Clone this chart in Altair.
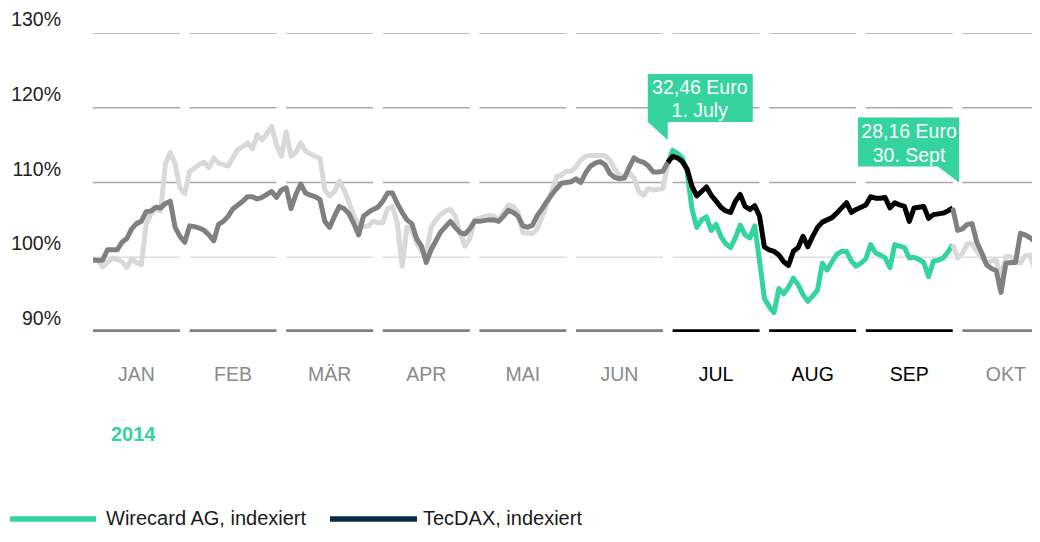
import altair as alt
import pandas as pd

# ---------------- data ----------------
MONTHS = ["JAN", "FEB", "MÄR", "APR", "MAI", "JUN", "JUL", "AUG", "SEP", "OKT"]
HIGHLIGHT_MONTHS = ["JUL", "AUG", "SEP"]
GRID_LEVELS = [100, 110, 120, 130]
BASE_LEVEL = 90
Y_LABELS = [90, 100, 110, 120, 130]

# trading-day index 0..196 (20 slots per month)
WIRECARD = [
    99.8, 99.6, 98.7, 99.3, 99.9, 99.7, 99.4, 98.6, 99.8, 99.3,
    99.0, 104.4, 105.8, 106.4, 106.2, 112.5, 114.0, 112.5, 109.3, 108.5,
    111.5, 111.9, 112.4, 112.7, 112.0, 113.3, 112.6, 112.4, 112.2, 113.4,
    114.4, 114.8, 115.3, 114.5, 116.4, 115.7, 116.5, 117.5, 115.0, 113.5,
    116.8, 113.5, 114.0, 115.3, 114.2, 113.8, 113.5, 113.2, 109.0, 108.2,
    108.8, 110.2, 109.0, 107.3, 105.5, 104.4, 104.1, 104.2, 104.8, 104.6,
    104.6, 106.5, 106.8, 104.6, 98.8, 104.0, 103.8, 101.9, 100.8, 100.5,
    104.0, 105.0, 105.7, 106.2, 106.4, 105.5, 103.3, 101.5, 102.5, 105.0,
    105.2, 105.4, 105.6, 105.5, 105.0, 106.0, 107.0, 106.8, 106.0, 103.3,
    103.2, 103.2, 103.8, 105.4, 107.2, 108.8, 110.8, 111.0, 111.5, 111.5,
    112.1, 113.0, 113.5, 113.6, 113.6, 113.6, 113.6, 113.0, 111.8, 111.0,
    110.6, 111.3, 110.6, 108.8, 108.3, 109.2, 109.0, 109.1, 109.2, 112.5,
    114.3, 113.9, 113.3, 111.5, 106.5, 104.0, 105.0, 105.4, 103.6, 104.4,
    102.8, 101.8, 101.3, 102.6, 104.3, 103.0, 102.6, 104.2, 99.5, 94.5,
    93.4, 92.6, 95.8, 95.1, 96.0, 97.2, 96.3, 95.0, 94.1, 94.8,
    95.6, 99.2, 98.3, 99.4, 100.4, 100.8, 100.8, 99.5, 98.8, 99.2,
    99.8, 101.7, 100.6, 100.3, 99.9, 98.6, 101.7, 101.5, 101.3, 99.9,
    100.0, 99.7, 99.3, 97.4, 99.5, 99.6, 99.9, 100.7, 101.7, 99.9,
    100.5, 101.8, 101.8, 100.8, 100.0, 99.2, 99.5, 99.6, 97.3, 100.1,
    100.1, 99.5, 99.2, 100.2, 100.3, 98.3, 97.9,
]
TECDAX = [
    99.6, 99.6, 99.6, 101.0, 101.0, 101.0, 102.0, 102.5, 103.8, 104.5,
    104.8, 106.1, 106.2, 106.7, 106.6, 107.2, 107.5, 104.0, 102.8, 102.0,
    104.2, 104.1, 103.9, 103.6, 103.0, 102.2, 104.4, 104.8, 105.5, 106.5,
    107.0, 107.5, 108.1, 108.1, 107.8, 108.0, 108.4, 108.8, 108.0, 109.0,
    109.3, 106.5, 108.4, 109.8, 108.6, 108.3, 108.1, 107.7, 104.8, 104.0,
    105.5, 106.8, 106.5, 105.8, 104.5, 103.0, 105.5, 106.0, 106.4, 106.7,
    107.5, 108.6, 108.6, 107.2, 106.0, 105.0, 104.5, 102.5, 101.5, 99.3,
    101.0, 102.2, 103.4, 104.1, 104.8, 104.0, 103.3, 103.1, 103.8, 104.8,
    104.8, 104.9, 105.0, 105.0, 104.8, 105.5, 106.3, 106.0, 105.5, 104.2,
    104.0, 104.3, 105.6, 106.5, 107.5, 108.4, 109.2, 109.9, 110.0, 110.1,
    110.5, 110.0, 111.3, 112.2, 112.6, 112.8, 112.4, 111.2, 110.7, 110.5,
    110.6, 112.0, 113.3, 112.9, 112.7, 112.2, 111.4, 111.4, 111.5, 112.7,
    113.5, 113.3, 112.8, 111.8, 109.5, 108.2, 108.8, 109.4, 108.3, 107.5,
    106.7, 106.2, 106.0, 107.5, 108.4, 106.8, 106.4, 106.9, 105.5, 101.4,
    101.0, 100.8, 100.3, 99.4, 98.9, 100.8, 101.3, 102.8, 101.4, 102.8,
    104.0, 104.7, 105.0, 105.3, 105.9, 106.6, 107.3, 106.0, 106.4, 106.7,
    107.0, 108.1, 107.9, 107.9, 108.0, 106.6, 107.3, 107.0, 106.8, 104.8,
    106.6, 106.7, 106.8, 105.2, 105.7, 105.8, 105.9, 106.2, 106.6, 103.6,
    103.8, 104.4, 104.5, 102.0, 100.6, 99.0, 98.5, 98.2, 95.3, 99.2,
    99.3, 99.3, 103.2, 103.0, 102.6, 102.1, 103.7,
]
HI_START, HI_END = 119, 178  # 30 June .. 30 Sept

CALLOUT_DAY = [119, 179.3]
CALLOUT_VALUE = [115.7, 110.0]
CALLOUT_LINES = [["32,46 Euro", "1. July"], ["28,16 Euro", "30. Sept"]]

YEAR_LABEL = "2014"
LEGEND_LABELS = ["Wirecard AG, indexiert", "TecDAX, indexiert"]

# ---------------- style ----------------
GREEN = "#35d39e"
NAVY = "#0c2a44"
LIGHT = "#d9d9d9"
DARK = "#808080"
FONT = "Liberation Sans"
W, H = 939, 299
PX_PER_DAY = 4.83
SLOT, SEG = 20, 18

x_scale = alt.Scale(domain=[0, W / PX_PER_DAY], nice=False, zero=False)
y_scale = alt.Scale(domain=[90, 130], nice=False, zero=False)
X = lambda f: alt.X(f, type="quantitative", scale=x_scale, axis=None)
Y = lambda f: alt.Y(f, type="quantitative", scale=y_scale, axis=None)

# ---------------- tables ----------------
rows = []
for name, vals in [("Wirecard", WIRECARD), ("TecDAX", TECDAX)]:
    for part, a, b in [("pre", 0, HI_START), ("hi", HI_START, HI_END), ("post", HI_END, len(vals) - 1)]:
        for d in range(a, b + 1):
            rows.append({"series": name, "key": f"{name}-{part}", "day": d, "value": vals[d]})
lines_df = pd.DataFrame(rows)

color_scale = alt.Scale(
    domain=["Wirecard-pre", "Wirecard-hi", "Wirecard-post", "TecDAX-pre", "TecDAX-hi", "TecDAX-post"],
    range=[LIGHT, GREEN, LIGHT, DARK, "#000000", DARK],
)

grid_rows = []
for lv in GRID_LEVELS:
    for i, m in enumerate(MONTHS):
        grid_rows.append({"level": lv, "start": SLOT * i, "end": SLOT * i + SEG,
                          "col": "#dedede" if lv == 100 else "#a9a9a9"})
grid_df = pd.DataFrame(grid_rows)

base_df = pd.DataFrame([
    {"level": BASE_LEVEL, "start": SLOT * i, "end": SLOT * i + SEG,
     "col": "#000000" if m in HIGHLIGHT_MONTHS else DARK}
    for i, m in enumerate(MONTHS)
])

month_df = pd.DataFrame([
    {"month": m, "mid": SLOT * i + SEG / 2, "col": "#000000" if m in HIGHLIGHT_MONTHS else "#8a8a8a"}
    for i, m in enumerate(MONTHS)
])

ylab_df = pd.DataFrame({"level": Y_LABELS, "label": [f"{v}%" for v in Y_LABELS]})

# ---------------- layers ----------------
grid = alt.Chart(grid_df).mark_rule(strokeWidth=1.4, clip=True).encode(
    x=X("start"), x2="end", y=Y("level"), color=alt.Color("col:N", scale=None))
base = alt.Chart(base_df).mark_rule(strokeWidth=5.5, clip=True).encode(
    x=X("start"), x2="end", y=Y("level"), color=alt.Color("col:N", scale=None))

def series_layer(name):
    return alt.Chart(lines_df[lines_df.series == name]).mark_line(
        strokeWidth=5, clip=True, strokeJoin="round").encode(
        x=X("day"), y=Y("value"),
        color=alt.Color("key:N", scale=color_scale, legend=None),
        detail="key:N")

wire = series_layer("Wirecard")
tec = series_layer("TecDAX")

ylabels = alt.Chart(ylab_df).mark_text(
    align="right", baseline="middle", dy=-13, font=FONT, fontSize=19.5, color="#222222").encode(
    x=alt.value(-32), y=Y("level"), text="label:N")

months = alt.Chart(month_df).mark_text(
    align="center", baseline="middle", font=FONT, fontSize=19.5).encode(
    x=X("mid"), y=alt.value(H + 43), text="month:N", color=alt.Color("col:N", scale=None))

year = alt.Chart(pd.DataFrame({"t": [YEAR_LABEL]})).mark_text(
    align="left", baseline="middle", font=FONT, fontSize=20, fontWeight="bold", color=GREEN).encode(
    x=alt.value(18), y=alt.value(H + 103), text="t:N")

# callouts (box + pointer as one symbol path anchored at the pointer tip)
CALLOUT_PATHS = [
    "M-0.2,-0.66L0.85,-0.66L0.85,-0.18L0,-0.18L0,0L-0.2,-0.18Z",
    "M-1.01,-0.65L0,-0.65L0,0L-0.21,-0.16L-1.01,-0.16Z",
]
TEXT_OFFSETS = [[(32, -52), (32, -29)], [(-50, -51), (-50, -27)]]
callout_df = pd.DataFrame({"day": CALLOUT_DAY, "value": CALLOUT_VALUE, "path": CALLOUT_PATHS})
boxes = alt.Chart(callout_df).mark_point(
    filled=True, opacity=1, size=40000, strokeWidth=0, color=GREEN).encode(
    x=X("day"), y=Y("value"), shape=alt.Shape("path:N", scale=None))

texts = []
for i, lines in enumerate(CALLOUT_LINES):
    for j, line in enumerate(lines):
        dx, dy = TEXT_OFFSETS[i][j]
        texts.append(alt.Chart(pd.DataFrame({"day": [CALLOUT_DAY[i]], "value": [CALLOUT_VALUE[i]], "t": [line]}))
                     .mark_text(align="center", baseline="middle", dx=dx, dy=dy, font=FONT,
                                fontSize=19.5, color="white")
                     .encode(x=X("day"), y=Y("value"), text="t:N"))

# legend
LEG_Y = H + 187
leg_lines = [
    alt.Chart(pd.DataFrame({"a": [0]})).mark_rule(strokeWidth=5.5, color=GREEN).encode(
        x=alt.value(-83), x2=alt.value(3), y=alt.value(LEG_Y)),
    alt.Chart(pd.DataFrame({"a": [0]})).mark_rule(strokeWidth=5.5, color=NAVY).encode(
        x=alt.value(237), x2=alt.value(324), y=alt.value(LEG_Y)),
]
leg_texts = [
    alt.Chart(pd.DataFrame({"t": [LEGEND_LABELS[0]]})).mark_text(
        align="left", baseline="middle", font=FONT, fontSize=20, color="#1a1a1a").encode(
        x=alt.value(13), y=alt.value(LEG_Y), text="t:N"),
    alt.Chart(pd.DataFrame({"t": [LEGEND_LABELS[1]]})).mark_text(
        align="left", baseline="middle", font=FONT, fontSize=20, color="#1a1a1a").encode(
        x=alt.value(330), y=alt.value(LEG_Y), text="t:N"),
]

chart = alt.layer(
    grid, base, wire, tec, boxes, *texts, ylabels, months, year, *leg_lines, *leg_texts
).properties(
    width=W, height=H,
    autosize=alt.AutoSizeParams(type="none"),
    padding={"left": 85, "top": 25, "right": 0, "bottom": 202},
    background="white",
).configure_view(stroke=None)

chart.save("out.html", embed_options={"renderer": "svg", "actions": False})
